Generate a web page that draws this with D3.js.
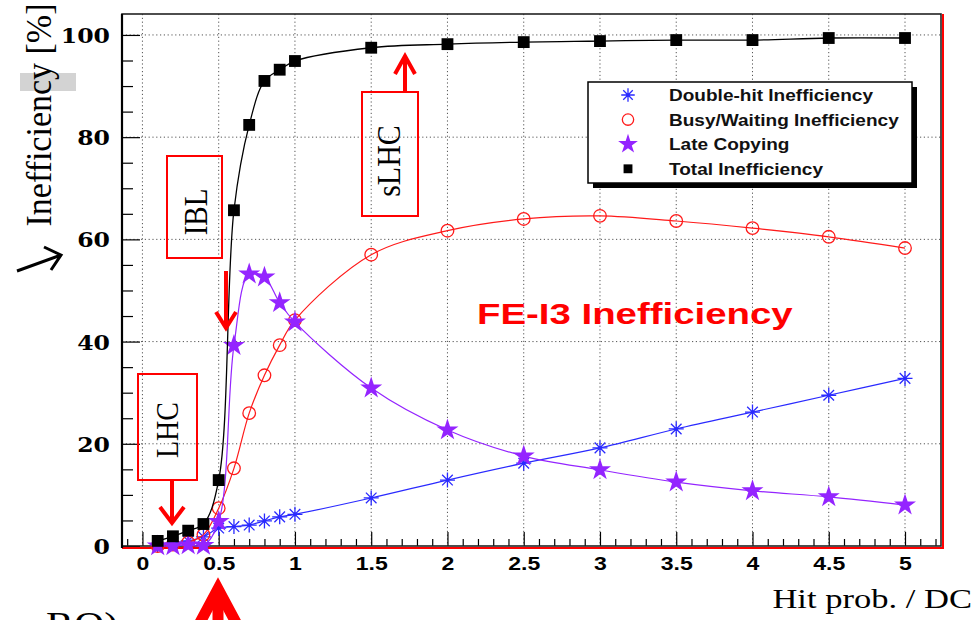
<!DOCTYPE html>
<html lang="en">
<head>
<meta charset="utf-8">
<title>FE-I3 Inefficiency</title>
<script src="https://d3js.org/d3.v7.min.js"></script>
<style>
  body { margin: 0; background: #fff; }
  svg { display: block; }
  .grid { stroke: #555; stroke-width: 1; stroke-dasharray: 1.2, 2.6; }
  .ann { fill: none; stroke: #ff0000; stroke-width: 2; }
  .arrow { fill: none; stroke: #ff0000; stroke-width: 4; stroke-linejoin: miter; }
</style>
</head>
<body>
<script>
// hit probability per double column
var hitProb = [0.1, 0.2, 0.3, 0.4, 0.5, 0.6, 0.7, 0.8, 0.9, 1.0, 1.5, 2, 2.5, 3, 3.5, 4, 4.5, 5];
// inefficiencies in %
var doubleHit = [0.3, 0.6, 1.0, 1.8, 3.5, 3.8, 4.1, 4.9, 5.7, 6.2, 9.4, 12.9, 16.2, 19.2, 22.9, 26.2, 29.5, 32.8];
var busyWaiting = [0, 0.3, 0.7, 2.2, 7.4, 15.2, 26.0, 33.4, 39.3, 44.2, 57.0, 61.7, 64.0, 64.6, 63.6, 62.2, 60.5, 58.3];
var lateCopying = [0, 0, 0.2, 0.1, 4.8, 39.2, 53.2, 52.6, 47.6, 43.8, 30.9, 22.7, 17.6, 14.9, 12.5, 10.8, 9.6, 8.0];
var totalIneff = [1.0, 1.9, 3.0, 4.3, 12.9, 65.7, 82.4, 91.0, 93.2, 94.9, 97.5, 98.2, 98.6, 98.8, 99.0, 99.0, 99.4, 99.4];

var xMajor = [0, 0.5, 1, 1.5, 2, 2.5, 3, 3.5, 4, 4.5, 5];
var xMajorLabels = ["0", "0.5", "1", "1.5", "2", "2.5", "3", "3.5", "4", "4.5", "5"];
var yMajor = [0, 20, 40, 60, 80, 100];
var legendLabels = ["Double-hit Inefficiency", "Busy/Waiting Inefficiency", "Late Copying", "Total Inefficiency"];

var w = 978, h = 620;
// frame edges (window.top is taken, so no bare "top")
var fL = 122, fR = 941, fT = 14, fB = 546;

var svg = d3.select("body").append("svg").attr("width", w).attr("height", h);

var x = d3.scaleLinear().domain([-0.134, 5.236]).range([fL, fR]);
var y = d3.scaleLinear().domain([0, 104.1]).range([fB, fT]);

// grid (dotted)
svg.append("g").selectAll("line").data(xMajor).join("line")
  .attr("class", "grid")
  .attr("x1", d => x(d)).attr("x2", d => x(d))
  .attr("y1", fT).attr("y2", fB);
svg.append("g").selectAll("line").data(yMajor.filter(d => d > 0)).join("line")
  .attr("class", "grid")
  .attr("x1", fL).attr("x2", fR)
  .attr("y1", d => y(d)).attr("y2", d => y(d));

// minor ticks
var xMinor = d3.range(-1, 53).map(i => i / 10).filter(d => xMajor.indexOf(d) < 0);
var yMinor = d3.range(0, 105, 5).filter(d => yMajor.indexOf(d) < 0);

svg.append("g").attr("transform", "translate(0," + fB + ")")
  .call(d3.axisBottom(x).tickValues(xMinor).tickSize(-7).tickFormat(""))
  .call(g => g.select(".domain").remove());
svg.append("g").attr("transform", "translate(" + fL + ",0)")
  .call(d3.axisLeft(y).tickValues(yMinor).tickSize(-11).tickFormat(""))
  .call(g => g.select(".domain").remove());

// major ticks + labels
var xAxisG = svg.append("g").attr("transform", "translate(0," + fB + ")")
  .call(d3.axisBottom(x).tickValues(xMajor).tickSize(-14).tickFormat((d, i) => xMajorLabels[i]));
xAxisG.select(".domain").remove();
xAxisG.selectAll("text")
  .attr("y", 0).attr("dy", null)
  .attr("transform", "translate(0,24) scale(1.28,1)")
  .style("font-family", "'Liberation Sans', Arial, sans-serif")
  .style("font-weight", "bold").style("font-size", "18px").attr("fill", "#000");

var yAxisG = svg.append("g").attr("transform", "translate(" + fL + ",0)")
  .call(d3.axisLeft(y).tickValues(yMajor).tickSize(-18));
yAxisG.select(".domain").remove();
yAxisG.selectAll("text")
  .attr("x", 0).attr("dy", null)
  .attr("transform", "translate(-12,7.5) scale(1.15,1)")
  .style("font-family", "'DejaVu Serif', serif")
  .style("font-weight", "bold").style("font-size", "20.5px").attr("fill", "#000");
svg.selectAll(".tick line").attr("stroke", "#000").attr("stroke-width", 1.2);

// frame
svg.append("line").attr("x1", fR + 2).attr("x2", fR + 2).attr("y1", fT).attr("y2", fB + 2)
  .attr("stroke", "#ff0000").attr("stroke-width", 2);
svg.append("line").attr("x1", fL).attr("x2", fR + 3).attr("y1", fB + 2).attr("y2", fB + 2)
  .attr("stroke", "#ff0000").attr("stroke-width", 2);
svg.append("rect").attr("x", fL).attr("y", fT).attr("width", fR - fL).attr("height", fB - fT)
  .attr("fill", "none").attr("stroke", "#222").attr("stroke-width", 1.6);
svg.append("line").attr("x1", fL).attr("x2", fL).attr("y1", fT).attr("y2", fB + 2)
  .attr("stroke", "#000").attr("stroke-width", 2.2);

// series
var series = [
  { name: legendLabels[0], values: doubleHit, color: "#2a2aff", marker: "asterisk" },
  { name: legendLabels[1], values: busyWaiting, color: "#ff1a1a", marker: "circle" },
  { name: legendLabels[2], values: lateCopying, color: "#9424ff", marker: "star" },
  { name: legendLabels[3], values: totalIneff, color: "#000000", marker: "square" }
];

var line = d3.line()
  .x(d => x(d[0])).y(d => y(d[1]))
  .curve(d3.curveCatmullRom.alpha(0.5));

function drawMarker(g, type, color, px, py, scale) {
  scale = scale || 1;
  if (type === "asterisk") {
    var s = 7.5 * scale, t = 5.3 * scale;
    g.append("path")
      .attr("d", "M" + (-s) + ",0L" + s + ",0M0," + (-s) + "L0," + s +
        "M" + (-t) + "," + (-t) + "L" + t + "," + t + "M" + (-t) + "," + t + "L" + t + "," + (-t))
      .attr("transform", "translate(" + px + "," + py + ")")
      .attr("stroke", color).attr("stroke-width", 1.3).attr("fill", "none");
    g.append("circle").attr("cx", px).attr("cy", py).attr("r", 1.6).attr("fill", color);
  } else if (type === "circle") {
    g.append("circle").attr("cx", px).attr("cy", py).attr("r", 6.3 * scale)
      .attr("fill", "none").attr("stroke", color).attr("stroke-width", 1.3);
  } else if (type === "star") {
    g.append("path").attr("d", d3.symbol(d3.symbolStar, 150 * scale * scale)())
      .attr("transform", "translate(" + px + "," + py + ")")
      .attr("fill", color);
  } else {
    g.append("path").attr("d", d3.symbol(d3.symbolSquare, 140 * scale * scale)())
      .attr("transform", "translate(" + px + "," + py + ")")
      .attr("fill", color);
  }
}

series.forEach(function(s) {
  var pts = hitProb.map((v, i) => [v, s.values[i]]);
  var g = svg.append("g");
  g.append("path").datum(pts)
    .attr("d", line).attr("fill", "none")
    .attr("stroke", s.color).attr("stroke-width", s.marker === "square" ? 1.3 : 1.2);
  pts.forEach(p => drawMarker(g, s.marker, s.color, x(p[0]), y(p[1])));
});

// legend
var lg = svg.append("g");
var lx = 588, ly = 82, lw = 324, lh = 101;
lg.append("rect").attr("x", lx + 5).attr("y", ly + 5).attr("width", lw).attr("height", lh).attr("fill", "#000");
lg.append("rect").attr("x", lx).attr("y", ly).attr("width", lw).attr("height", lh)
  .attr("fill", "#fff").attr("stroke", "#000").attr("stroke-width", 1.5);
series.forEach(function(s, i) {
  var ry = 95 + i * 24.6;
  drawMarker(lg, s.marker, s.color, 628, ry, s.marker === "square" ? 0.75 : 0.9);
  lg.append("text")
    .attr("transform", "translate(669," + (ry + 6) + ") scale(1.12,1)")
    .style("font-family", "'Liberation Sans', Arial, sans-serif")
    .style("font-weight", "bold").style("font-size", "17px")
    .attr("fill", "#111").text(s.name);
});

// title text in plot
svg.append("text")
  .attr("transform", "translate(477,324) scale(1.28,1)")
  .style("font-family", "'Liberation Sans', Arial, sans-serif")
  .style("font-weight", "bold").style("font-size", "30px")
  .attr("fill", "#ff0000").text("FE-I3 Inefficiency");

// annotation boxes with arrows
function box(x0, y0, x1, y1, label, bx, cy, fs) {
  svg.append("rect").attr("class", "ann")
    .attr("x", x0).attr("y", y0).attr("width", x1 - x0).attr("height", y1 - y0).attr("fill", "#fff");
  svg.append("text")
    .attr("transform", "translate(" + bx + "," + cy + ") scale(1.15,1) rotate(-90)")
    .attr("text-anchor", "middle")
    .style("font-family", "'Liberation Serif', 'Times New Roman', serif")
    .style("font-size", fs + "px").attr("fill", "#000").text(label);
}
box(138, 374, 197, 480, "LHC", 178, 430, 28);
box(167, 156, 222, 258, "IBL", 207, 212, 29);
box(362, 92, 418, 216, "sLHC", 400, 161, 30);

function arrow(pts, head) {
  svg.append("path").attr("class", "arrow").attr("d", d3.line()(pts));
  svg.append("path").attr("class", "arrow").attr("d", d3.line()(head));
}
arrow([[172, 481], [172, 522]], [[160, 507], [172, 523], [184, 507]]);
arrow([[226, 271], [226, 327]], [[216, 312], [226, 328], [236, 312]]);
arrow([[405, 93], [405, 57]], [[395, 74], [405, 56], [415, 74]]);

// axis titles
svg.append("rect").attr("x", 20).attr("y", 73).attr("width", 56).attr("height", 18).attr("fill", "#d3d3d3");
svg.append("text")
  .attr("transform", "translate(51,115) scale(1.03,1) rotate(-90)")
  .attr("text-anchor", "middle")
  .style("font-family", "'Liberation Serif', 'Times New Roman', serif")
  .style("font-size", "34px").attr("fill", "#000").text("Inefficiency [%]");
svg.append("path").attr("d", "M17,271L61,255M44,247L61,255L51,270")
  .attr("fill", "none").attr("stroke", "#000").attr("stroke-width", 3);

svg.append("text")
  .attr("transform", "translate(972,608) scale(1.28,1)")
  .attr("text-anchor", "end")
  .style("font-family", "'Liberation Serif', 'Times New Roman', serif")
  .style("font-size", "27px").attr("fill", "#000").text("Hit prob. / DC");

// cut-off bits at the bottom edge
svg.append("text")
  .attr("transform", "translate(46,637) scale(1.2,1)")
  .style("font-family", "'Liberation Serif', 'Times New Roman', serif")
  .style("font-size", "35px").attr("fill", "#000").text("RO)");
svg.append("path").attr("d", "M196,630L218,589L240,630")
  .attr("fill", "none").attr("stroke", "#ff0000").attr("stroke-width", 11).attr("stroke-linejoin", "miter");
svg.append("line").attr("x1", 218).attr("x2", 218).attr("y1", 595).attr("y2", 630)
  .attr("stroke", "#ff0000").attr("stroke-width", 11);
</script>
</body>
</html>
